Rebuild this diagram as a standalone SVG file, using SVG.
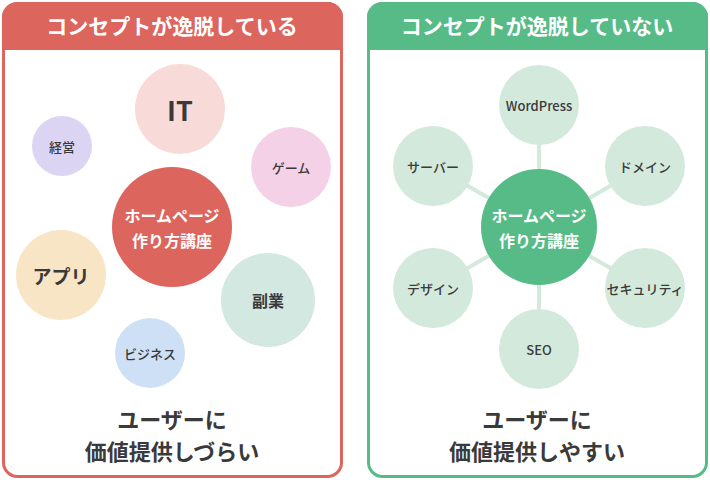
<svg xmlns="http://www.w3.org/2000/svg" width="710" height="480" viewBox="0 0 710 480">
<style>
text{font-family:"Noto Sans CJK JP","Noto Sans",sans-serif;text-anchor:middle;dominant-baseline:central;fill:#3a3a3a;font-weight:bold}
.w{fill:#fff}
.h{font-size:21px;fill:#fff}
.s{font-size:13px;font-weight:500}
.b{font-size:22px}
.g{fill:#d3e9dc}
</style>
<rect width="710" height="480" fill="#fff"/>
<g id="left-panel">
<rect x="3.5" y="3.5" width="338" height="473" rx="14" fill="#fff" stroke="#dc655d" stroke-width="3"/>
<path d="M2 17.5 A15.5 15.5 0 0 1 17.5 2 H327.5 A15.5 15.5 0 0 1 343 17.5 V50 H2 Z" fill="#dc655d"/>
<text class="h" x="172" y="25">コンセプトが逸脱している</text>
<text class="b" x="172" y="418">ユーザーに</text>
<text class="b" x="172" y="450">価値提供しづらい</text>
</g>
<g id="n-it"><circle cx="180" cy="109" r="45" fill="#f8dad8"/><text x="180" y="109" font-size="27" font-family="Noto Sans">IT</text></g>
<g id="n-keiei"><circle cx="62" cy="146" r="30" fill="#dcd4f3"/><text class="s" x="62" y="146">経営</text></g>
<g id="n-game"><circle cx="291" cy="167" r="40" fill="#f5d1e7"/><text class="s" x="291" y="167">ゲーム</text></g>
<g id="n-center-l"><circle cx="172" cy="227" r="60" fill="#dc655d"/><text class="w" x="172" y="215" font-size="16">ホームページ</text><text class="w" x="172" y="240" font-size="16">作り方講座</text></g>
<g id="n-app"><circle cx="61" cy="275" r="45" fill="#f7e5c6"/><text x="61" y="275" font-size="19">アプリ</text></g>
<g id="n-fukugyo"><circle cx="268" cy="300" r="47" fill="#d4e8e2"/><text x="268" y="300" font-size="16">副業</text></g>
<g id="n-biz"><circle cx="150" cy="353" r="35" fill="#cde0f5"/><text class="s" x="150" y="353">ビジネス</text></g>

<g id="right-panel">
<rect x="368.5" y="3.5" width="338" height="473" rx="14" fill="#fff" stroke="#56bb86" stroke-width="3"/>
<path d="M367 17.5 A15.5 15.5 0 0 1 382.5 2 H692.5 A15.5 15.5 0 0 1 708 17.5 V50 H367 Z" fill="#56bb86"/>
<text class="h" x="537" y="25">コンセプトが逸脱していない</text>
<text class="b" x="537" y="418">ユーザーに</text>
<text class="b" x="537" y="450">価値提供しやすい</text>
</g>
<g id="connectors" stroke="#d3e9dc" stroke-width="4">
<line x1="539" y1="105" x2="539" y2="349"/>
<line x1="645" y1="166" x2="433" y2="288"/>
<line x1="433" y1="166" x2="645" y2="288"/>
</g>
<g id="n-center-r"><circle cx="539" cy="227" r="58" fill="#56bb86"/><text class="w" x="539" y="215" font-size="16">ホームページ</text><text class="w" x="539" y="240" font-size="16">作り方講座</text></g>
<g id="n-wp"><circle class="g" cx="539" cy="105" r="40"/><text class="s" x="539" y="105" font-family="Noto Sans">WordPress</text></g>
<g id="n-domain"><circle class="g" cx="645" cy="166" r="40"/><text class="s" x="645" y="166">ドメイン</text></g>
<g id="n-sec"><circle class="g" cx="645" cy="288" r="40"/><text class="s" x="645" y="288">セキュリティ</text></g>
<g id="n-seo"><circle class="g" cx="539" cy="349" r="40"/><text class="s" x="539" y="349" font-family="Noto Sans">SEO</text></g>
<g id="n-design"><circle class="g" cx="433" cy="288" r="40"/><text class="s" x="433" y="288">デザイン</text></g>
<g id="n-server"><circle class="g" cx="433" cy="166" r="40"/><text class="s" x="433" y="166">サーバー</text></g>
</svg>
